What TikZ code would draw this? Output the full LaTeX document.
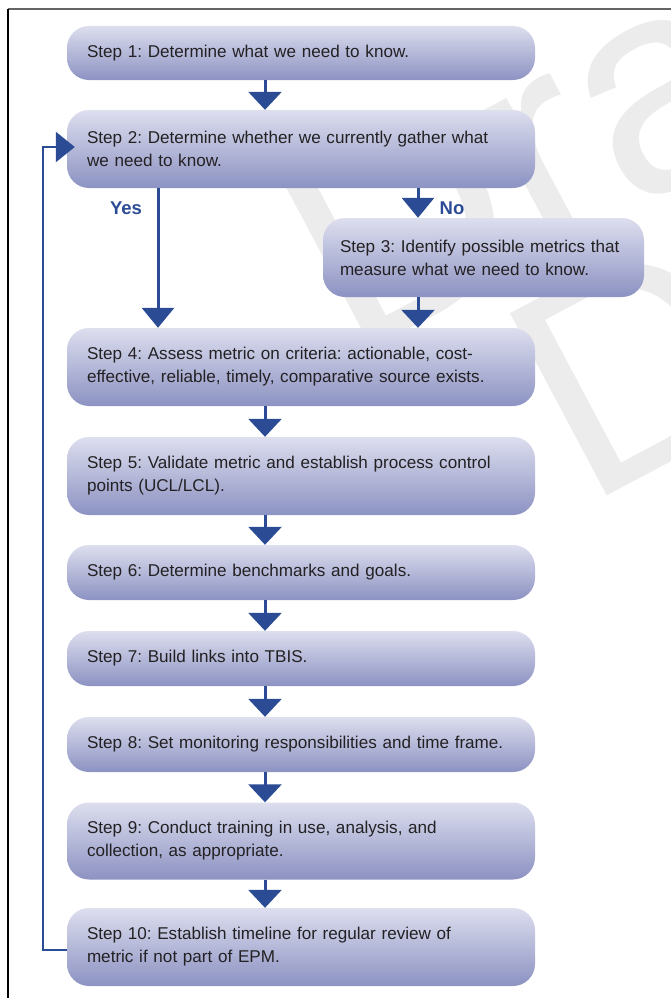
\documentclass[tikz,border=0pt]{standalone}
\usepackage{fontspec}
\setmainfont{Liberation Sans}
\usetikzlibrary{arrows.meta}
\definecolor{flowblue}{RGB}{43,75,148}
\definecolor{boxtop}{RGB}{221,222,238}
\definecolor{boxbot}{RGB}{140,146,194}
\definecolor{inkgray}{RGB}{35,33,35}
\definecolor{wmark}{RGB}{236,236,236}
\definecolor{framegray}{RGB}{100,100,100}
\frenchspacing

\begin{document}
\begin{tikzpicture}[x=1pt,y=-1pt,
  stepbox/.style={rounded corners=22pt, top color=boxtop, bottom color=boxbot,
    minimum width=468pt, text width=428pt, align=left, inner xsep=20pt, inner ysep=0pt,
    font=\fontsize{17.1}{23}\selectfont, text=inkgray},
  flowarrow/.style={draw=flowblue, line width=3pt, -{Triangle[width=33pt,length=18pt]}},
  lbl/.style={text=flowblue, font=\fontsize{18.5}{20}\selectfont\bfseries, inner sep=0pt},
  watermark/.style={text=wmark, font=\fontsize{300}{300}\selectfont, inner sep=0pt, anchor=base west, rotate=28}]

\useasboundingbox (0,0) rectangle (671,998);

% faint draft watermark behind the chart
\begin{scope}
  \clip (8,9) rectangle (671,998);
  \node[watermark] (wm1) at (350,361) {Draft};
  \node[watermark] (wm2) at (585,508) {Draft};
\end{scope}

% frame
\draw[framegray, line width=2.2pt] (8,9) -- (671,9);
\draw[black, line width=1.1pt] (8,9) -- (8,998);

% steps
\node[stepbox, minimum height=54pt] (s1) at (301,53) {Step 1: Determine what we need to know.};
\node[stepbox, minimum height=78pt] (s2) at (301,149) {Step 2: Determine whether we currently gather what\\we need to know.};
\node[stepbox, minimum width=321pt, text width=287pt, inner xsep=17pt, minimum height=79pt] (s3) at (483.5,257.5) {Step 3: Identify possible metrics that\\measure what we need to know.};
\node[stepbox, minimum height=78pt] (s4) at (301,367) {Step 4: Assess metric on criteria: actionable, cost-\\effective, reliable, timely, comparative source exists.};
\node[stepbox, minimum height=78pt] (s5) at (301,476) {Step 5: Validate metric and establish process control\\points (UCL/LCL).};
\node[stepbox, minimum height=55pt] (s6) at (301,572.5) {Step 6: Determine benchmarks and goals.};
\node[stepbox, minimum height=55pt] (s7) at (301,658.5) {Step 7: Build links into TBIS.};
\node[stepbox, minimum height=55pt] (s8) at (301,744.5) {Step 8: Set monitoring responsibilities and time frame.};
\node[stepbox, minimum height=77pt] (s9) at (301,841) {Step 9: Conduct training in use, analysis, and\\collection, as appropriate.};
\node[stepbox, minimum height=78pt] (s10) at (301,947) {Step 10: Establish timeline for regular review of\\metric if not part of EPM.};

% branch labels
\node[lbl] (yes) at (126,208) {Yes};
\node[lbl] (no) at (452,208) {No};

% connector columns
\coordinate (ax) at (265,0);
\coordinate (yx) at (158,0);
\coordinate (nx) at (418,0);
\coordinate (fbtop) at (43,147);

\draw[flowarrow] (s1.south -| ax) -- (s2.north -| ax);
\draw[flowarrow, -{Triangle[width=32pt,length=20pt]}] (s2.south -| yx) -- (s4.north -| yx);
\draw[flowarrow, -{Triangle[width=32pt,length=20pt]}] (s2.south -| nx) -- (s3.north -| nx);
\draw[flowarrow] (s3.south -| nx) -- (s4.north -| nx);
\draw[flowarrow] (s4.south -| ax) -- (s5.north -| ax);
\draw[flowarrow] (s5.south -| ax) -- (s6.north -| ax);
\draw[flowarrow] (s6.south -| ax) -- (s7.north -| ax);
\draw[flowarrow] (s7.south -| ax) -- (s8.north -| ax);
\draw[flowarrow] (s8.south -| ax) -- (s9.north -| ax);
\draw[flowarrow] (s9.south -| ax) -- (s10.north -| ax);

% feedback loop from step 10 back to step 2
\draw[draw=flowblue, line width=2.5pt, -{Triangle[width=30pt,length=19pt]}]
  ([yshift=-3pt]s10.west) -| (fbtop) -- ([xshift=8pt,yshift=2pt]s2.west);

\end{tikzpicture}
\end{document}
